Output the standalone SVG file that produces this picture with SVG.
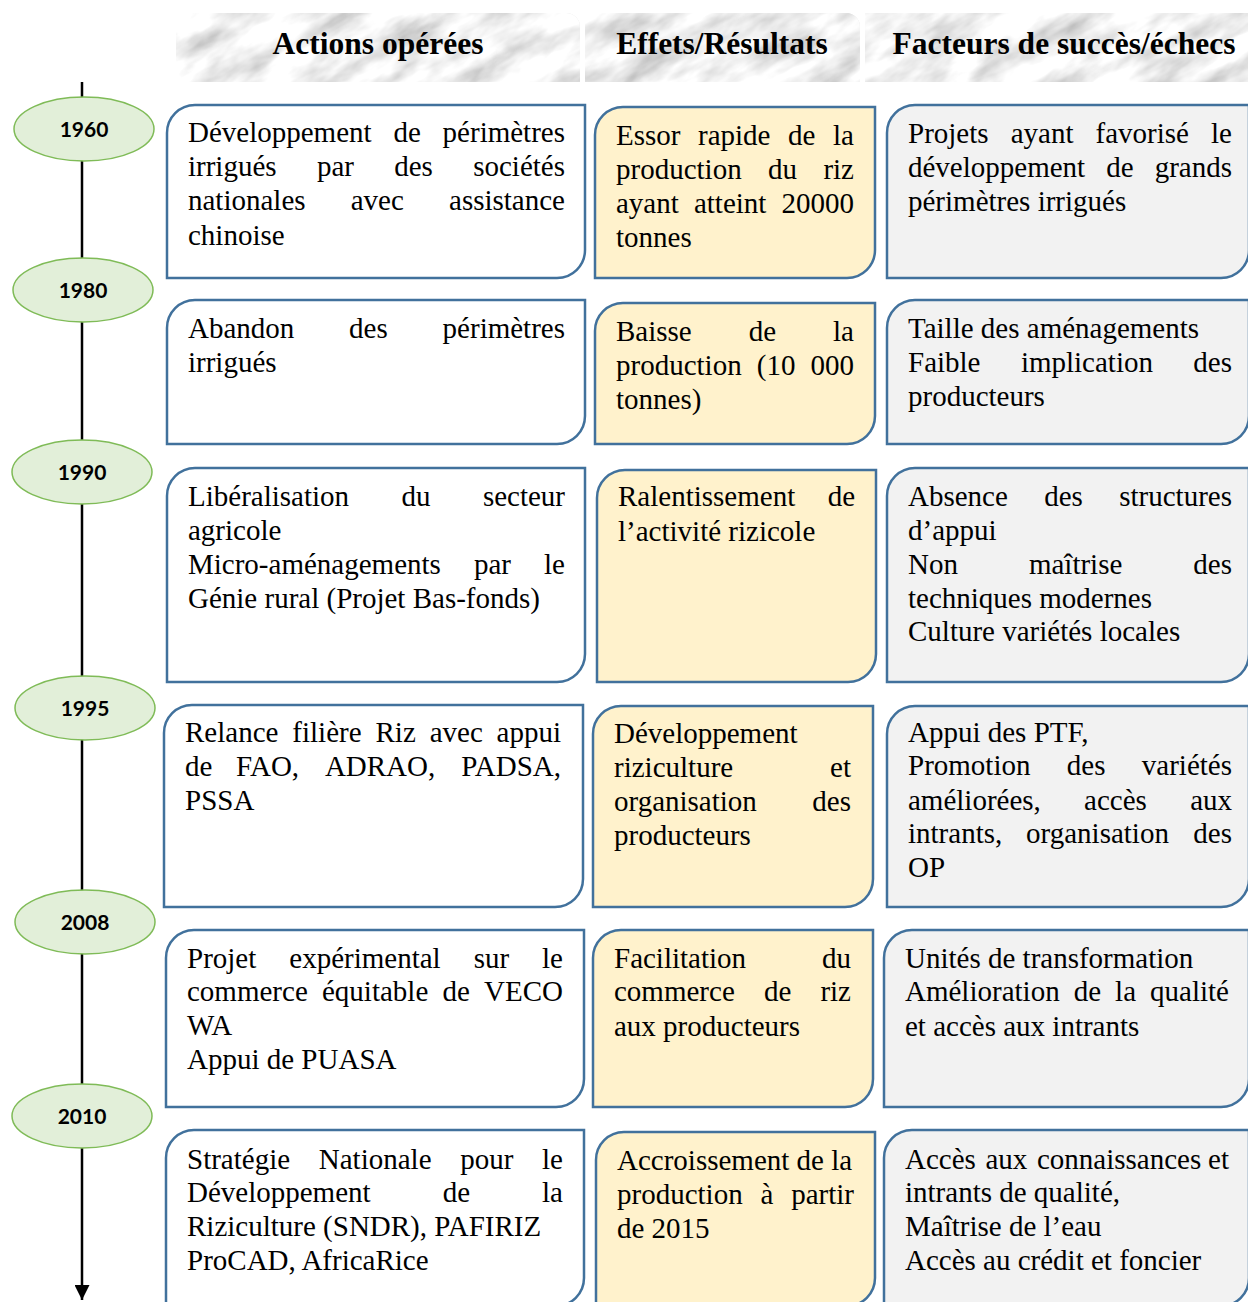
<svg xmlns="http://www.w3.org/2000/svg" width="1248" height="1302" viewBox="0 0 1248 1302">
  <style>
    .hd { font-family: 'Liberation Serif', 'Times New Roman', serif; font-weight: bold; font-size: 31.5px; fill: #000; text-anchor: middle; }
    .t { font-family: 'Liberation Serif', 'Times New Roman', serif; font-size: 29px; fill: #000; }
    .e { text-anchor: end; }
    .yr { font-family: Lato, 'DejaVu Sans', sans-serif; font-weight: bold; font-size: 21px; fill: #000; text-anchor: middle; }
    .year { fill: #e2efd9; stroke: #7fbb57; stroke-width: 1.5; }
    .act { fill: #ffffff; stroke: #41719c; stroke-width: 2.5; }
    .eff { fill: #fff2cc; stroke: #41719c; stroke-width: 2.5; }
    .fac { fill: #f2f2f2; stroke: #41719c; stroke-width: 2.5; }
    .axis { stroke: #000; stroke-width: 2.5; fill: none; }
  </style>
  <defs>
    <filter id="marble" x="0" y="0" width="100%" height="100%" filterUnits="objectBoundingBox">
      <feTurbulence type="fractalNoise" baseFrequency="0.016 0.04" numOctaves="4" seed="11" result="n"/>
      <feColorMatrix in="n" type="matrix" values="1.0 0 0 0 0.38  1.0 0 0 0 0.38  1.0 0 0 0 0.38  0 0 0 0 1"/>
    </filter>
    <clipPath id="heads">
      <path d="M176,13 H566 A14,14 0 0 1 580,27 V82 H176 Z"/>
      <path d="M585,13 H846 A14,14 0 0 1 860,27 V82 H585 Z"/>
      <path d="M865,13 H1248 V82 H865 Z"/>
    </clipPath>
    <marker id="arrow" viewBox="0 0 10 10" refX="10" refY="5" markerWidth="6" markerHeight="6" markerUnits="strokeWidth" orient="auto">
      <path d="M0,0 L10,5 L0,10 Z" fill="#000"/>
    </marker>
  </defs>

  <!-- column headings on grey marble tiles -->
  <g id="headers">
    <g clip-path="url(#heads)">
      <rect x="176" y="13" width="1072" height="69" fill="#e0e0e0"/>
      <g transform="rotate(-30 700 48)">
        <rect x="80" y="-320" width="1250" height="740" filter="url(#marble)"/>
      </g>
    </g>
    <text class="hd" x="378" y="54">Actions opérées</text>
    <text class="hd" x="722" y="54">Effets/Résultats</text>
    <text class="hd" x="1064" y="54">Facteurs de succès/échecs</text>
  </g>

  <!-- time axis -->
  <g id="connectors">
    <line class="axis" x1="82" y1="82" x2="82" y2="1300" marker-end="url(#arrow)"/>
  </g>

  <!-- year markers -->
  <g id="y1960"><ellipse class="year" cx="84" cy="129" rx="70" ry="32"/><text class="yr" x="84" y="137">1960</text></g>
  <g id="y1980"><ellipse class="year" cx="83" cy="290" rx="70" ry="32"/><text class="yr" x="83" y="298">1980</text></g>
  <g id="y1990"><ellipse class="year" cx="82" cy="472" rx="70" ry="32"/><text class="yr" x="82" y="480">1990</text></g>
  <g id="y1995"><ellipse class="year" cx="85" cy="708" rx="70" ry="32"/><text class="yr" x="85" y="716">1995</text></g>
  <g id="y2008"><ellipse class="year" cx="85" cy="922" rx="70" ry="32"/><text class="yr" x="85" y="930">2008</text></g>
  <g id="y2010"><ellipse class="year" cx="82" cy="1116" rx="70" ry="32"/><text class="yr" x="82" y="1124">2010</text></g>

  <!-- 1960 -->
  <g id="act1960">
    <path class="act" d="M167,133 A28,28 0 0 1 195,105 H585 V250 A28,28 0 0 1 557,278 H167 Z"/>
    <text class="t" y="142"><tspan x="188">Développement</tspan><tspan x="393.4">de</tspan><tspan x="565" class="e">périmètres</tspan></text>
    <text class="t" y="176"><tspan x="188">irrigués</tspan><tspan x="316.9">par</tspan><tspan x="394.2">des</tspan><tspan x="565" class="e">sociétés</tspan></text>
    <text class="t" y="210"><tspan x="188">nationales</tspan><tspan x="350.7">avec</tspan><tspan x="565" class="e">assistance</tspan></text>
    <text class="t" x="188" y="245">chinoise</text>
  </g>
  <g id="eff1960">
    <path class="eff" d="M595,135 A28,28 0 0 1 623,107 H875 V250 A28,28 0 0 1 847,278 H595 Z"/>
    <text class="t" y="145"><tspan x="616">Essor</tspan><tspan x="698">rapide</tspan><tspan x="788.1">de</tspan><tspan x="854" class="e">la</tspan></text>
    <text class="t" y="179"><tspan x="616">production</tspan><tspan x="768">du</tspan><tspan x="854" class="e">riz</tspan></text>
    <text class="t" y="213"><tspan x="616">ayant</tspan><tspan x="693.9">atteint</tspan><tspan x="854" class="e">20000</tspan></text>
    <text class="t" x="616" y="247">tonnes</text>
  </g>
  <g id="fac1960">
    <path class="fac" d="M887,133 A28,28 0 0 1 915,105 H1249 V250 A28,28 0 0 1 1221,278 H887 Z"/>
    <text class="t" y="143"><tspan x="908">Projets</tspan><tspan x="1010.7">ayant</tspan><tspan x="1095.6">favorisé</tspan><tspan x="1232" class="e">le</tspan></text>
    <text class="t" y="177"><tspan x="908">développement</tspan><tspan x="1106.3">de</tspan><tspan x="1232" class="e">grands</tspan></text>
    <text class="t" x="908" y="211">périmètres irrigués</text>
  </g>

  <!-- 1980 -->
  <g id="act1980">
    <path class="act" d="M167,328 A28,28 0 0 1 195,300 H585 V416 A28,28 0 0 1 557,444 H167 Z"/>
    <text class="t" y="338"><tspan x="188">Abandon</tspan><tspan x="349.1">des</tspan><tspan x="565" class="e">périmètres</tspan></text>
    <text class="t" x="188" y="372">irrigués</text>
  </g>
  <g id="eff1980">
    <path class="eff" d="M595,331 A28,28 0 0 1 623,303 H875 V416 A28,28 0 0 1 847,444 H595 Z"/>
    <text class="t" y="341"><tspan x="616">Baisse</tspan><tspan x="748.7">de</tspan><tspan x="854" class="e">la</tspan></text>
    <text class="t" y="375"><tspan x="616">production</tspan><tspan x="756.8">(10</tspan><tspan x="854" class="e">000</tspan></text>
    <text class="t" x="616" y="409">tonnes)</text>
  </g>
  <g id="fac1980">
    <path class="fac" d="M887,328 A28,28 0 0 1 915,300 H1249 V416 A28,28 0 0 1 1221,444 H887 Z"/>
    <text class="t" x="908" y="338">Taille des aménagements</text>
    <text class="t" y="372"><tspan x="908">Faible</tspan><tspan x="1020.9">implication</tspan><tspan x="1232" class="e">des</tspan></text>
    <text class="t" x="908" y="406">producteurs</text>
  </g>

  <!-- 1990 -->
  <g id="act1990">
    <path class="act" d="M167,496 A28,28 0 0 1 195,468 H585 V654 A28,28 0 0 1 557,682 H167 Z"/>
    <text class="t" y="506"><tspan x="188">Libéralisation</tspan><tspan x="401.5">du</tspan><tspan x="565" class="e">secteur</tspan></text>
    <text class="t" x="188" y="540">agricole</text>
    <text class="t" y="574"><tspan x="188">Micro-aménagements</tspan><tspan x="474">par</tspan><tspan x="565" class="e">le</tspan></text>
    <text class="t" x="188" y="608">Génie rural (Projet Bas-fonds)</text>
  </g>
  <g id="eff1990">
    <path class="eff" d="M597,498 A28,28 0 0 1 625,470 H876 V654 A28,28 0 0 1 848,682 H597 Z"/>
    <text class="t" y="506"><tspan x="618">Ralentissement</tspan><tspan x="855" class="e">de</tspan></text>
    <text class="t" x="618" y="541">l’activité rizicole</text>
  </g>
  <g id="fac1990">
    <path class="fac" d="M887,496 A28,28 0 0 1 915,468 H1249 V654 A28,28 0 0 1 1221,682 H887 Z"/>
    <text class="t" y="506"><tspan x="908">Absence</tspan><tspan x="1044.2">des</tspan><tspan x="1232" class="e">structures</tspan></text>
    <text class="t" x="908" y="540">d’appui</text>
    <text class="t" y="574"><tspan x="908">Non</tspan><tspan x="1028.9">maîtrise</tspan><tspan x="1232" class="e">des</tspan></text>
    <text class="t" x="908" y="608">techniques modernes</text>
    <text class="t" x="908" y="641">Culture variétés locales</text>
  </g>

  <!-- 1995 -->
  <g id="act1995">
    <path class="act" d="M164,733 A28,28 0 0 1 192,705 H583 V879 A28,28 0 0 1 555,907 H164 Z"/>
    <text class="t" y="742"><tspan x="185">Relance</tspan><tspan x="292.3">filière</tspan><tspan x="375.5">Riz</tspan><tspan x="429.7">avec</tspan><tspan x="561" class="e">appui</tspan></text>
    <text class="t" y="776"><tspan x="185">de</tspan><tspan x="236">FAO,</tspan><tspan x="324.9">ADRAO,</tspan><tspan x="561" class="e">PADSA,</tspan></text>
    <text class="t" x="185" y="810">PSSA</text>
  </g>
  <g id="eff1995">
    <path class="eff" d="M593,734 A28,28 0 0 1 621,706 H873 V879 A28,28 0 0 1 845,907 H593 Z"/>
    <text class="t" x="614" y="743">Développement</text>
    <text class="t" y="777"><tspan x="614">riziculture</tspan><tspan x="851" class="e">et</tspan></text>
    <text class="t" y="811"><tspan x="614">organisation</tspan><tspan x="851" class="e">des</tspan></text>
    <text class="t" x="614" y="845">producteurs</text>
  </g>
  <g id="fac1995">
    <path class="fac" d="M887,734 A28,28 0 0 1 915,706 H1249 V879 A28,28 0 0 1 1221,907 H887 Z"/>
    <text class="t" x="908" y="742">Appui des PTF,</text>
    <text class="t" y="775"><tspan x="908">Promotion</tspan><tspan x="1066.8">des</tspan><tspan x="1232" class="e">variétés</tspan></text>
    <text class="t" y="810"><tspan x="908">améliorées,</tspan><tspan x="1084.1">accès</tspan><tspan x="1232" class="e">aux</tspan></text>
    <text class="t" y="843"><tspan x="908">intrants,</tspan><tspan x="1026.1">organisation</tspan><tspan x="1232" class="e">des</tspan></text>
    <text class="t" x="908" y="877">OP</text>
  </g>

  <!-- 2008 -->
  <g id="act2008">
    <path class="act" d="M166,958 A28,28 0 0 1 194,930 H584 V1079 A28,28 0 0 1 556,1107 H166 Z"/>
    <text class="t" y="968"><tspan x="187">Projet</tspan><tspan x="289.3">expérimental</tspan><tspan x="473.7">sur</tspan><tspan x="563" class="e">le</tspan></text>
    <text class="t" y="1001"><tspan x="187">commerce</tspan><tspan x="322">équitable</tspan><tspan x="442.5">de</tspan><tspan x="563" class="e">VECO</tspan></text>
    <text class="t" x="187" y="1035">WA</text>
    <text class="t" x="187" y="1069">Appui de PUASA</text>
  </g>
  <g id="eff2008">
    <path class="eff" d="M593,958 A28,28 0 0 1 621,930 H873 V1079 A28,28 0 0 1 845,1107 H593 Z"/>
    <text class="t" y="968"><tspan x="614">Facilitation</tspan><tspan x="851" class="e">du</tspan></text>
    <text class="t" y="1001"><tspan x="614">commerce</tspan><tspan x="763.9">de</tspan><tspan x="851" class="e">riz</tspan></text>
    <text class="t" x="614" y="1036">aux producteurs</text>
  </g>
  <g id="fac2008">
    <path class="fac" d="M884,958 A28,28 0 0 1 912,930 H1249 V1079 A28,28 0 0 1 1221,1107 H884 Z"/>
    <text class="t" x="905" y="968">Unités de transformation</text>
    <text class="t" y="1001"><tspan x="905">Amélioration</tspan><tspan x="1073.7">de</tspan><tspan x="1115.1">la</tspan><tspan x="1229" class="e">qualité</tspan></text>
    <text class="t" x="905" y="1036">et accès aux intrants</text>
  </g>

  <!-- 2010 -->
  <g id="act2010">
    <path class="act" d="M166,1158 A28,28 0 0 1 194,1130 H584 V1278 A28,28 0 0 1 556,1306 H166 Z"/>
    <text class="t" y="1169"><tspan x="187">Stratégie</tspan><tspan x="318.8">Nationale</tspan><tspan x="460.3">pour</tspan><tspan x="563" class="e">le</tspan></text>
    <text class="t" y="1202"><tspan x="187">Développement</tspan><tspan x="442.7">de</tspan><tspan x="563" class="e">la</tspan></text>
    <text class="t" x="187" y="1236">Riziculture (SNDR), PAFIRIZ</text>
    <text class="t" x="187" y="1270">ProCAD, AfricaRice</text>
  </g>
  <g id="eff2010">
    <path class="eff" d="M596,1160 A28,28 0 0 1 624,1132 H875 V1278 A28,28 0 0 1 847,1306 H596 Z"/>
    <text class="t" x="617" y="1170">Accroissement de la</text>
    <text class="t" y="1204"><tspan x="617">production</tspan><tspan x="760.5">à</tspan><tspan x="854" class="e">partir</tspan></text>
    <text class="t" x="617" y="1238">de 2015</text>
  </g>
  <g id="fac2010">
    <path class="fac" d="M884,1158 A28,28 0 0 1 912,1130 H1249 V1278 A28,28 0 0 1 1221,1306 H884 Z"/>
    <text class="t" y="1169"><tspan x="905">Accès</tspan><tspan x="985.4">aux</tspan><tspan x="1036.9">connaissances</tspan><tspan x="1229" class="e">et</tspan></text>
    <text class="t" x="905" y="1202">intrants de qualité,</text>
    <text class="t" x="905" y="1236">Maîtrise de l’eau</text>
    <text class="t" x="905" y="1270">Accès au crédit et foncier</text>
  </g>
</svg>
